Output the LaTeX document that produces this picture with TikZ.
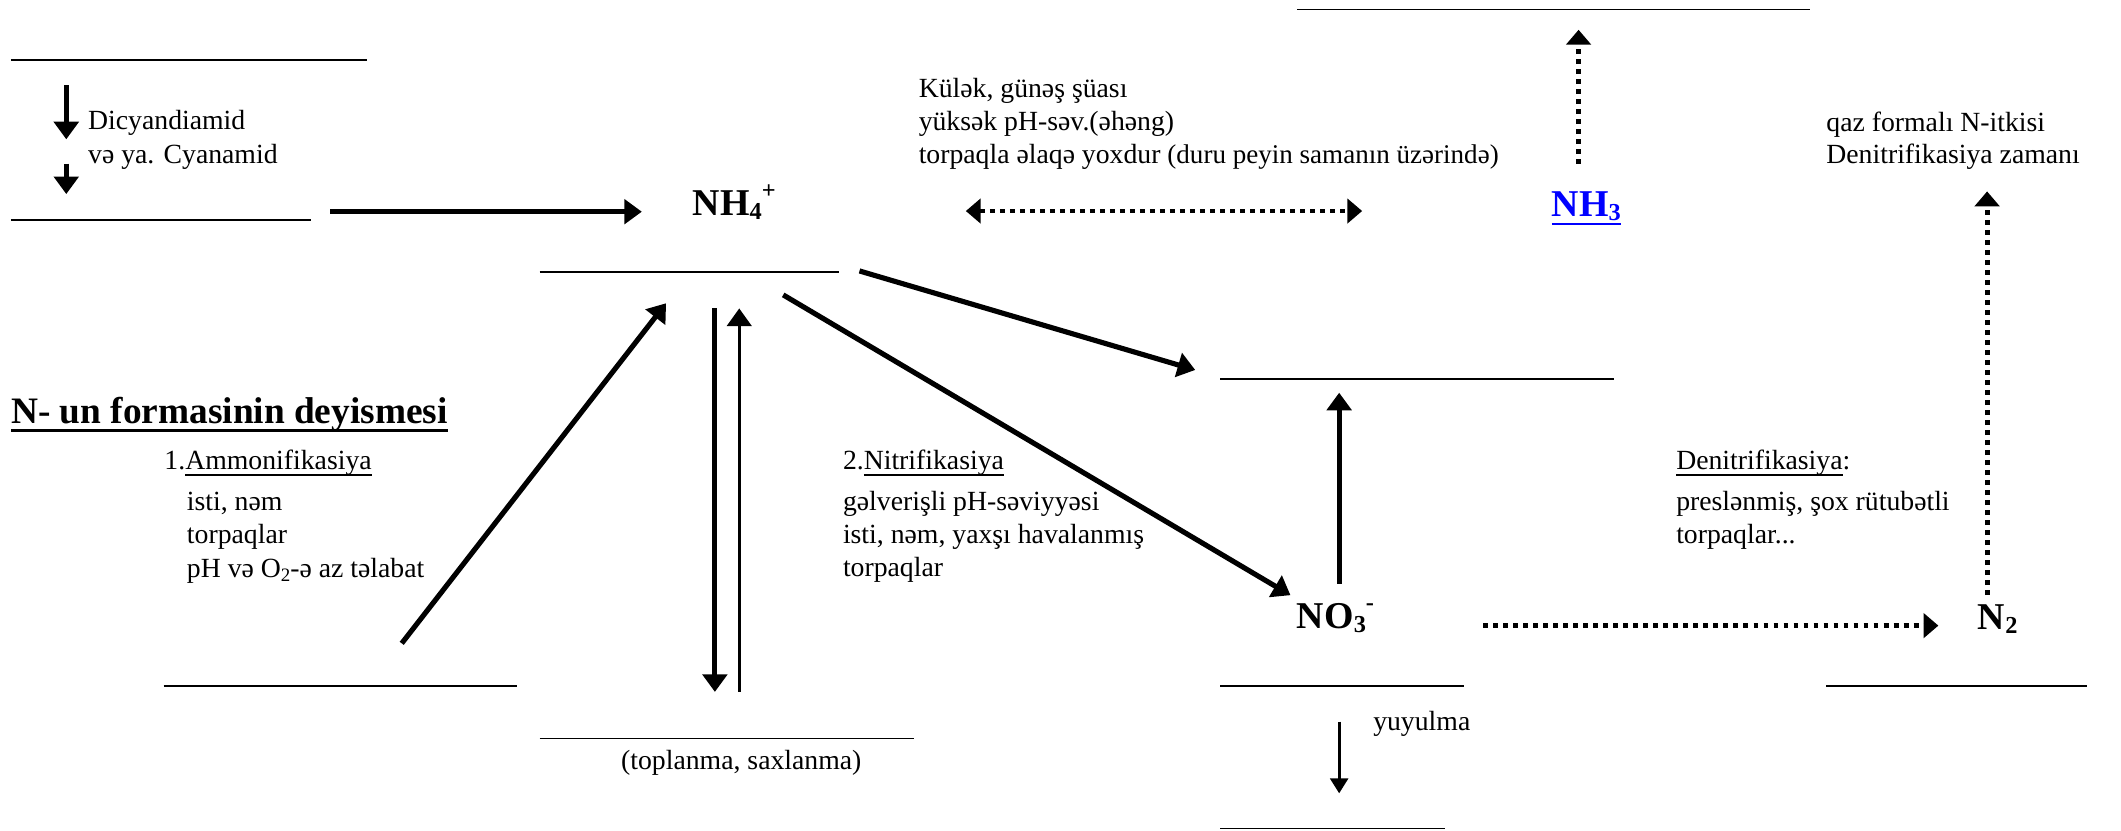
\documentclass[tikz,border=0pt]{standalone}
\usepackage{fontspec}
\setmainfont{Liberation Serif}
\usetikzlibrary{arrows.meta}
\newcommand{\ulx}[3]{\setbox0=\hbox{#3}\leavevmode\rlap{\rule[-#1]{\wd0}{#2}}\box0}
\newcommand{\subx}[3][18]{\raisebox{-#2}{\fontsize{#1}{#1}\selectfont #3}}
\newcommand{\supx}[3][18]{\raisebox{#2}{\fontsize{#1}{#1}\selectfont #3}}
\tikzset{
  txt/.style={anchor=base west, inner sep=0pt, font=\fontsize{20.5}{24}\selectfont},
  bigtxt/.style={anchor=base west, inner sep=0pt, font=\fontsize{28}{32}\selectfont\bfseries},
  hline/.style={line width=1.3pt, black},
  tarrow/.style={line width=3.8pt, -{Triangle[length=13pt,width=18pt]}},
  marrow/.style={line width=2.4pt, -{Triangle[length=11pt,width=13pt]}},
  darrow/.style={line width=3.6pt, dash pattern=on 3.6pt off 3.8pt, -{Triangle[length=11pt,width=18pt]}},
  ddarrow/.style={line width=3.6pt, dash pattern=on 3.6pt off 3.8pt, {Triangle[length=11pt,width=18pt]}-{Triangle[length=11pt,width=18pt]}},
}
\begin{document}
\begin{tikzpicture}[x=1pt,y=-1pt]
\useasboundingbox (0,0) rectangle (1568,614);
% horizontal lines
\draw[hline] (8,44.5) -- (271,44.5);
\draw[hline] (8,162.5) -- (230,162.5);
\draw[hline] (399,201) -- (620,201);
\draw[hline] (959,7) -- (1338,7);
\draw[hline] (902,280) -- (1193,280);
\draw[hline] (121,507) -- (382,507);
\draw[hline] (399,546) -- (676,546);
\draw[hline] (902,507) -- (1082,507);
\draw[hline] (902,612.5) -- (1068,612.5);
\draw[hline] (1350,507) -- (1543,507);

% texts
\node[txt] (dic) at (65,96) {Dicyandiamid};
\node[txt] (cya) at (65,120.7) {və ya. Cyanamid};
\node[txt] (k1) at (679,72) {Külək, günəş şüası};
\node[txt] (k2) at (679,96.5) {yüksək pH-səv.(əhəng)};
\node[txt] (k3) at (679,121) {torpaqla əlaqə yoxdur {\fontsize{20}{23}\selectfont(duru peyin samanın üzərində)}};
\node[txt] (q1) at (1350,97) {qaz formalı N-itkisi};
\node[txt] (q2) at (1350,121) {Denitrifikasiya zamanı};
\node[bigtxt, font=\fontsize{27.6}{32}\selectfont\bfseries] (title) at (8,313) {\ulx{6pt}{2.2pt}{N- un formasinin deyismesi}};
\node[txt] (am) at (121.4,347) {1.\ulx{5pt}{1.3pt}{Ammonifikasiya}};
\node[txt] (am1) at (138,377.5) {isti, nəm};
\node[txt] (am2) at (138,401.7) {torpaqlar};
\node[txt] (am3) at (138,427) {pH və O\subx[14]{3pt}{2}-ə az təlabat};
\node[txt] (ni) at (623,347) {2.\ulx{5pt}{1.3pt}{Nitrifikasiya}};
\node[txt] (ni1) at (623,377.5) {gəlverişli pH-səviyyəsi};
\node[txt] (ni2) at (623,401.7) {isti, nəm, yaxşı havalanmış};
\node[txt] (ni3) at (623,426.5) {torpaqlar};
\node[txt] (de) at (1239,347) {\ulx{5pt}{1.3pt}{Denitrifikasiya}:};
\node[txt] (de1) at (1239,377.5) {preslənmiş, şox rütubətli};
\node[txt] (de2) at (1239,402) {torpaqlar...};
\node[txt] (yu) at (1015,539.7) {yuyulma};
\node[txt, anchor=base] (top) at (548,569) {(toplanma, saxlanma)};

% chemical species
\node[bigtxt] (nh4) at (512,159) {NH\subx{3pt}{4}\supx{12.5pt}{+}};
\node[bigtxt, text=blue] (nh3) at (1147,160) {\ulx{6.5pt}{2pt}{NH\subx{3pt}{3}}};
\node[bigtxt] (no3) at (958.6,464.5) {NO\subx{3pt}{3}\supx{13pt}{-}};
\node[bigtxt] (n2) at (1462,465) {N\subx{3pt}{2}};

% arrow end points
\coordinate (a1s) at (49,63);   \coordinate (a1e) at (49,103);
\coordinate (a2s) at (49,121);  \coordinate (a2e) at (49,143.5);
\coordinate (a3s) at (244,156.5); \coordinate (a3e) at (474.5,156.5);
\coordinate (a4s) at (714,156); \coordinate (a4e) at (1007,156);
\coordinate (a5s) at (1167,121); \coordinate (a5e) at (1167,22);
\coordinate (a6s) at (1469,440); \coordinate (a6e) at (1469,141.5);
\coordinate (a7s) at (635.4,200.3); \coordinate (a7e) at (883.6,273.5);
\coordinate (a8s) at (579,218); \coordinate (a8e) at (954,440);
\coordinate (a9s) at (297,475.6); \coordinate (a9e) at (492.4,224.2);
\coordinate (a10s) at (528.5,228); \coordinate (a10e) at (528.5,511.5);
\coordinate (a11s) at (546.5,511.5); \coordinate (a11e) at (546.5,228);
\coordinate (a12s) at (990,431.7); \coordinate (a12e) at (990,290.3);
\coordinate (a13s) at (1096.5,462.5); \coordinate (a13e) at (1433,462.5);
\coordinate (a14s) at (990,533.5); \coordinate (a14e) at (990,586.5);

\draw[tarrow] (a1s) -- (a1e);
\draw[tarrow] (a2s) -- (a2e);
\draw[tarrow] (a3s) -- (a3e);
\draw[ddarrow] (a4s) -- (a4e);
\draw[darrow] (a5s) -- (a5e);
\draw[darrow] (a6s) -- (a6e);
\draw[tarrow] (a7s) -- (a7e);
\draw[tarrow] (a8s) -- (a8e);
\draw[tarrow] (a9s) -- (a9e);
\draw[tarrow] (a10s) -- (a10e);
\draw[line width=2.2pt, -{Triangle[length=13pt,width=18pt]}] (a11s) -- (a11e);
\draw[tarrow] (a12s) -- (a12e);
\draw[darrow] (a13s) -- (a13e);
\draw[marrow] (a14s) -- (a14e);
\end{tikzpicture}
\end{document}
